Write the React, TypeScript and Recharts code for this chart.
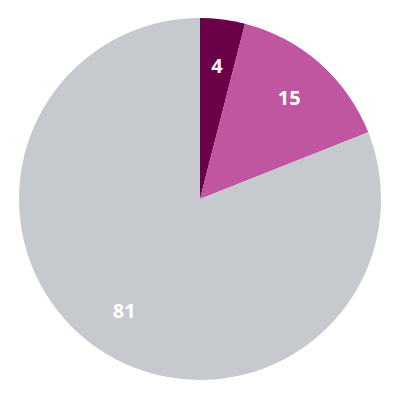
import { PieChart, Pie, Cell } from 'recharts';

const labels = ['A', 'B', 'C'];
const values = [4, 15, 81];
const colors = ['#6a0047', '#c055a0', '#c6c9cd'];

const data = labels.map((name, i) => ({ name, value: values[i] }));

const RADIAN = Math.PI / 180;

function renderLabel(props: any) {
  const { cx, cy, midAngle, outerRadius, value } = props;
  const r = outerRadius * 0.745;
  const x = cx + r * Math.cos(-midAngle * RADIAN);
  const y = cy + r * Math.sin(-midAngle * RADIAN);
  return (
    <text
      x={x}
      y={y}
      fill="#ffffff"
      textAnchor="middle"
      dominantBaseline="central"
      fontFamily="'Open Sans', sans-serif"
      fontWeight={700}
      fontSize={20}
    >
      {value}
    </text>
  );
}

export default function App() {
  return (
    <div style={{ margin: -8, width: 400, height: 400, background: '#fff' }}>
      <PieChart width={400} height={400} margin={{ top: 0, right: 0, bottom: 0, left: 0 }}>
        <Pie
          data={data}
          dataKey="value"
          cx={200}
          cy={199}
          outerRadius={181}
          startAngle={90}
          endAngle={-270}
          stroke="none"
          label={renderLabel}
          labelLine={false}
          isAnimationActive={false}
        >
          {data.map((d, i) => (
            <Cell key={d.name} fill={colors[i]} />
          ))}
        </Pie>
      </PieChart>
    </div>
  );
}
